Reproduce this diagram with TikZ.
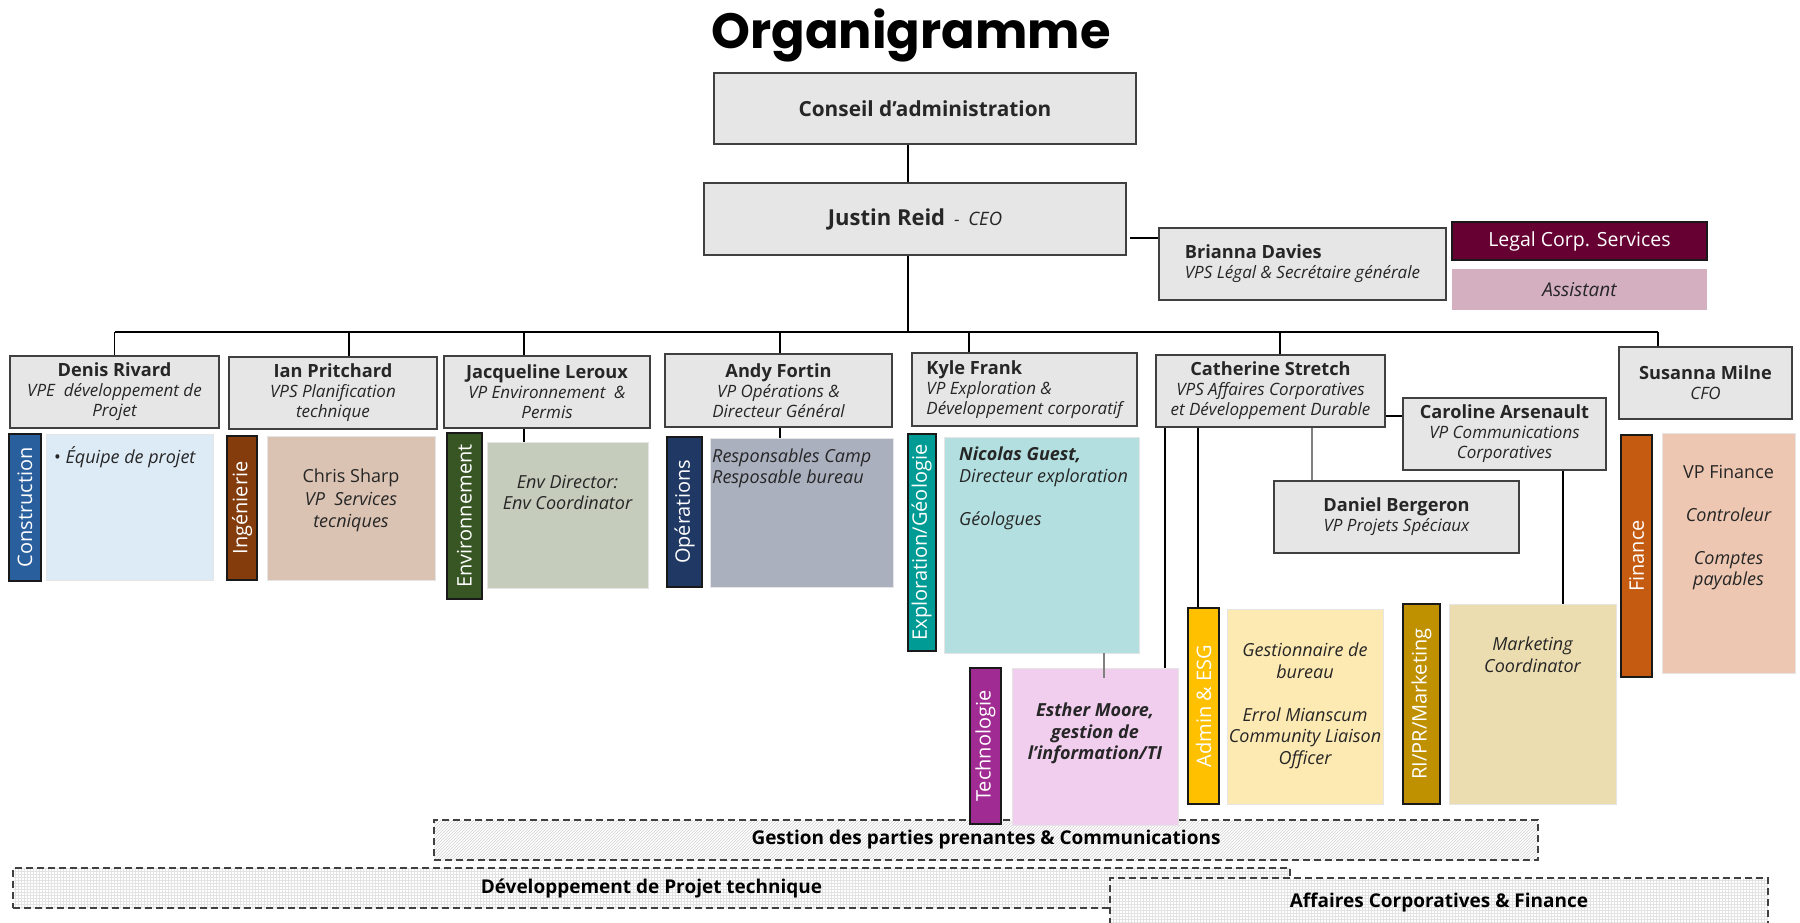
\documentclass[tikz,border=0pt]{standalone}
\usepackage{fontspec}
\setmainfont{Open Sans}
\newfontfamily\titlefont{Poppins}
\usepackage{graphicx}
\usetikzlibrary{patterns}
\definecolor{boxfill}{HTML}{E7E6E6}
\definecolor{boxline}{HTML}{404040}
\definecolor{txt}{HTML}{262626}
\definecolor{constr}{HTML}{2A5F9E}
\definecolor{constrbg}{HTML}{DDEBF7}
\definecolor{ingen}{HTML}{843C0C}
\definecolor{ingenbg}{HTML}{DAC3B3}
\definecolor{envir}{HTML}{375623}
\definecolor{envirbg}{HTML}{C5CCBC}
\definecolor{opera}{HTML}{203864}
\definecolor{operabg}{HTML}{ABB0BF}
\definecolor{explo}{HTML}{009B94}
\definecolor{explobg}{HTML}{B3DFE0}
\definecolor{techn}{HTML}{A02B93}
\definecolor{technbg}{HTML}{F1CDEE}
\definecolor{admin}{HTML}{FFC000}
\definecolor{adminbg}{HTML}{FDE9B2}
\definecolor{mark}{HTML}{BF9000}
\definecolor{markbg}{HTML}{EBDDB0}
\definecolor{finan}{HTML}{C55A11}
\definecolor{finanbg}{HTML}{EDC7B1}
\definecolor{legal}{HTML}{660033}
\definecolor{assist}{HTML}{D4AFC0}
\newcommand\nm[1]{{\fontsize{18.2}{20}\selectfont\bfseries\upshape #1}}
\newcommand\vt[1]{\rotatebox{90}{#1}}
\begin{document}
\begin{tikzpicture}[x=1pt,y=-1pt,
  pbox/.style={draw=boxline, line width=2pt, fill=boxfill, inner sep=0pt, align=center,
    font=\fontsize{17}{20}\selectfont\itshape, text=txt},
  tabbox/.style={draw=black!90, line width=2pt, inner sep=0pt, text=white,
    font=\fontsize{20}{22}\selectfont},
  cbox/.style={draw=black!10, line width=0.6pt, inner sep=0pt},
  ctext/.style={inner sep=0pt, align=center, font=\fontsize{18}{21.5}\selectfont\itshape,
    text=txt, anchor=north},
  link/.style={line width=1.6pt, black},
  glink/.style={line width=1.2pt, black!50},
  band/.style={draw=black!75, line width=2pt, dash pattern=on 7pt off 4pt, inner sep=0pt,
    font=\fontsize{19}{22}\selectfont\bfseries, text=black}
]
\useasboundingbox (0,0) rectangle (1800,922);

% title
\node[anchor=base, inner sep=0pt, font=\titlefont\fontsize{49.5}{56}\selectfont\bfseries] (title) at (911,48) {Organigramme};

% bottom bands
\node[band, preaction={fill=white}, pattern=north east lines, pattern color=black!18,
  minimum width=1104, minimum height=40] (gestion) at (986,840) {Gestion des parties prenantes \& Communications};
\node[band, preaction={fill=white}, pattern=grid, pattern color=black!11,
  minimum width=1277, minimum height=40] (devproj) at (651.5,888) {Développement de Projet technique};
\node[band, preaction={fill=white}, pattern=grid, pattern color=black!11,
  minimum width=658, minimum height=52] (affaires) at (1439,904) {};
\node[inner sep=0pt, font=\fontsize{19}{22}\selectfont\bfseries] (affairestxt) at (1439,902) {Affaires Corporatives \& Finance};

% top
\node[pbox, minimum width=422, minimum height=71, font=\fontsize{20.8}{24}\selectfont\bfseries] (conseil) at (925,108.5) {Conseil d’administration};
\node[pbox, minimum width=422, minimum height=72] (justin) at (915,219)
  {{\fontsize{22}{24}\selectfont\bfseries\upshape Justin Reid}\ \ {\upshape -}\ \ {\fontsize{18.5}{20}\selectfont CEO}};
\node[pbox, minimum width=287, minimum height=72, align=left] (brianna) at (1302.5,264)
  {\nm{Brianna Davies}\\VPS Légal \& Secrétaire générale};
\node[draw=black!90, line width=1.5pt, fill=legal, text=white, inner sep=0pt,
  minimum width=255, minimum height=38, font=\fontsize{19.5}{22}\selectfont] (legal) at (1579.5,241) {Legal Corp. Services};
\node[fill=assist, text=txt, inner sep=0pt, minimum width=255, minimum height=41,
  font=\fontsize{19}{22}\selectfont\itshape] (assistant) at (1579.5,289.5) {Assistant};

% level 2
\node[pbox, minimum width=209, minimum height=72] (denis) at (114.5,392)
  {\nm{Denis Rivard}\\VPE\ \ développement de\\Projet};
\node[pbox, minimum width=208, minimum height=72] (ian) at (333,393)
  {\nm{Ian Pritchard}\\VPS Planification\\technique};
\node[pbox, minimum width=206, minimum height=72] (jacq) at (547,392)
  {\nm{Jacqueline Leroux}\\VP Environnement\ \ \&\\Permis};
\node[pbox, minimum width=227, minimum height=73] (andy) at (778.5,390.5)
  {\nm{Andy Fortin}\\VP Opérations \&\\Directeur Général};
\node[pbox, minimum width=225, minimum height=73, align=left] (kyle) at (1024.5,389.5)
  {\nm{Kyle Frank}\\VP Exploration \&\\Développement corporatif};
\node[pbox, minimum width=229, minimum height=72] (cath) at (1270.5,391)
  {\nm{Catherine Stretch}\\VPS Affaires Corporatives\\et Développement Durable};
\node[pbox, minimum width=173, minimum height=72] (susanna) at (1705.5,383)
  {\nm{Susanna Milne}\\CFO};
\node[pbox, minimum width=203, minimum height=72] (caroline) at (1504.5,434)
  {\nm{Caroline Arsenault}\\VP Communications\\Corporatives};
\node[pbox, minimum width=245, minimum height=72] (daniel) at (1396.5,517)
  {\nm{Daniel Bergeron}\\VP Projets Spéciaux};

% tabs and content boxes
\node[tabbox, fill=constr, minimum width=32, minimum height=147] (constrtab) at (25,507.5) {\vt{Construction}};
\node[cbox, fill=constrbg, minimum width=167, minimum height=146] (equipe) at (129.5,507) {};
\node[ctext, anchor=north west, align=left] (equipetxt) at (54,446) {{\upshape\textbullet}\ Équipe de projet};

\node[tabbox, fill=ingen, minimum width=30, minimum height=144] (ingtab) at (242,508) {\vt{Ingénierie}};
\node[cbox, fill=ingenbg, minimum width=168, minimum height=144] (chris) at (351,508) {};
\node[ctext, font=\fontsize{18}{22.5}\selectfont\itshape] (christxt) at (351,469) {{\upshape Chris Sharp}\\VP\ \ Services\\tecniques};

\node[tabbox, fill=envir, minimum width=35, minimum height=166] (envtab) at (464.5,516) {\vt{Environnement}};
\node[cbox, fill=envirbg, minimum width=161, minimum height=146] (envbox) at (567.5,515) {};
\node[ctext, font=\fontsize{18}{21}\selectfont\itshape] (envtxt) at (567.5,475) {Env Director:\\Env Coordinator};

\node[tabbox, fill=opera, minimum width=35, minimum height=150] (opstab) at (684.5,512) {\vt{Opérations}};
\node[cbox, fill=operabg, minimum width=183, minimum height=149] (opsbox) at (801.5,512.5) {};
\node[ctext, anchor=north west, align=left, font=\fontsize{18}{21}\selectfont\itshape] (opstxt) at (712,449) {Responsables Camp\\Resposable bureau};

\node[tabbox, fill=explo, minimum width=28, minimum height=217] (explotab) at (921.5,542.5) {\vt{Exploration/Géologie}};
\node[cbox, fill=explobg, minimum width=195, minimum height=216] (nicolas) at (1041.5,545) {};
\node[ctext, anchor=north west, align=left] (nicolastxt) at (959,447)
  {\textbf{Nicolas Guest,}\\Directeur exploration\\[21.5pt]Géologues};

\node[tabbox, fill=techn, minimum width=31, minimum height=156] (techtab) at (985.5,746) {\vt{Technologie}};
\node[cbox, fill=technbg, minimum width=166, minimum height=157] (esther) at (1095,746.5) {};
\node[ctext, font=\fontsize{18}{21.5}\selectfont\itshape\bfseries] (esthertxt) at (1095,703) {Esther Moore,\\gestion de\\l’information/TI};

\node[tabbox, fill=admin, minimum width=31, minimum height=196] (admintab) at (1203.5,706) {\vt{Admin \& ESG}};
\node[cbox, fill=adminbg, minimum width=156, minimum height=195] (adminbox) at (1305,706.5) {};
\node[ctext] (admintxt) at (1305,643) {Gestionnaire de\\bureau\\[21.5pt]Errol Mianscum\\Community Liaison\\Officer};

\node[tabbox, fill=mark, minimum width=37, minimum height=200] (marktab) at (1421.5,704) {\vt{RI/PR/Marketing}};
\node[cbox, fill=markbg, minimum width=167, minimum height=200] (markbox) at (1532.5,704) {};
\node[ctext, font=\fontsize{18}{22}\selectfont\itshape] (marktxt) at (1532.5,637) {Marketing\\Coordinator};

\node[tabbox, fill=finan, minimum width=31, minimum height=242] (fintab) at (1636.5,556) {\vt{Finance}};
\node[cbox, fill=finanbg, minimum width=133, minimum height=240] (finbox) at (1728.5,553) {};
\node[ctext] (fintxt) at (1728.5,465) {{\upshape VP Finance}\\[21.5pt]Controleur\\[21.5pt]Comptes\\payables};

% connectors
\coordinate (busL) at (115,332);
\coordinate (busR) at (1658,332);
\coordinate (spine) at (908,0);
\draw[link] (conseil.south -| spine) -- (justin.north -| spine);
\draw[link] (justin.south -| spine) -- (busL -| spine);
\draw[link] (busL) -- (busR);
\draw[link] (denis.north) -- (denis.north |- busL);
\draw[link] ([xshift=16pt]ian.north) -- ([xshift=16pt]ian.north |- busL);
\draw[link] ([xshift=-23pt]jacq.north) -- ([xshift=-23pt]jacq.north |- busL);
\draw[link] ([xshift=1.5pt]andy.north) -- ([xshift=1.5pt]andy.north |- busL);
\draw[link] ([xshift=-55.5pt]kyle.north) -- ([xshift=-55.5pt]kyle.north |- busL);
\draw[link] ([xshift=9.5pt]cath.north) -- ([xshift=9.5pt]cath.north |- busL);
\draw[link] ([xshift=-47.5pt]susanna.north) -- ([xshift=-47.5pt]susanna.north |- busL);

\coordinate (bstub) at (1130,238);
\draw[link] (bstub) -- (bstub -| brianna.west);

\draw[link] ([xshift=-23pt]jacq.south) -- ([xshift=-23pt]jacq.south |- envbox.north);
\draw[link] ([xshift=1.5pt]andy.south) -- ([xshift=1.5pt]andy.south |- opsbox.north);
\coordinate (ccy) at (0,416);
\draw[link] (cath.east |- ccy) -- (caroline.west |- ccy);
\draw[glink] ([xshift=41.5pt]cath.south) -- ([xshift=41.5pt]cath.south |- daniel.north);
\draw[link] ([xshift=-5.5pt]admintab.north) -- ([xshift=-5.5pt]admintab.north |- cath.south);
\draw[link] ([xshift=70pt]esther.north) -- ([xshift=70pt]esther.north |- cath.south);
\draw[glink] ([xshift=62.5pt]nicolas.south) -- ++(0,25);
\draw[link] ([xshift=58.5pt]caroline.south) -- ([xshift=58.5pt]caroline.south |- markbox.north);
\end{tikzpicture}
\end{document}
